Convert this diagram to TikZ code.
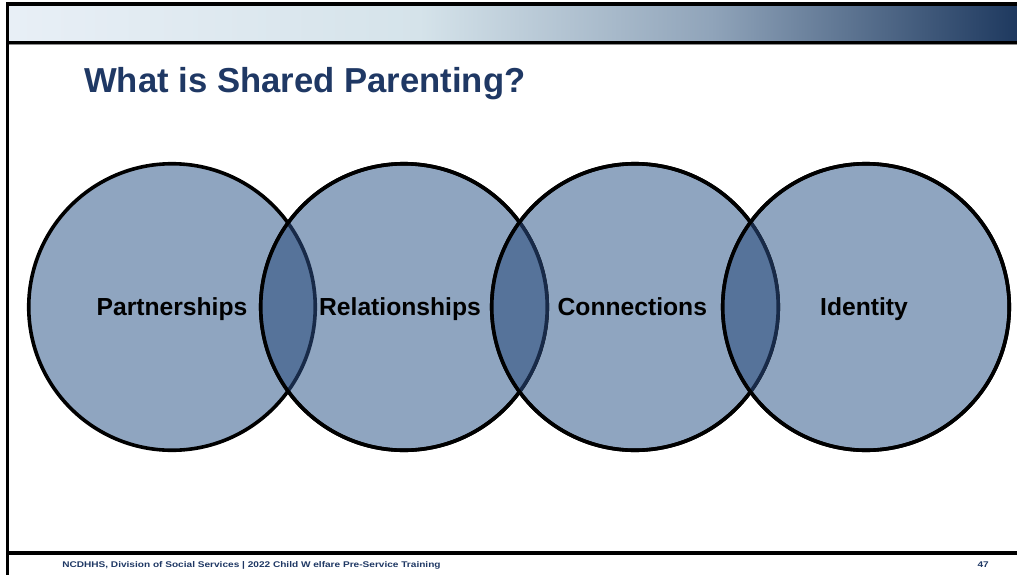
\documentclass[tikz,border=0pt]{standalone}
\usepackage{fontspec}
\setmainfont{Liberation Sans}
\usetikzlibrary{positioning}
\definecolor{navy}{RGB}{31,56,100}
\definecolor{ringfill}{RGB}{143,165,192}
\definecolor{lensfill}{RGB}{86,115,154}
\definecolor{lensline}{RGB}{24,42,72}
\definecolor{barA}{RGB}{232,239,246}
\definecolor{barB}{RGB}{213,227,234}
\definecolor{barC}{RGB}{143,163,185}
\definecolor{barD}{RGB}{30,57,95}
\newcommand{\ringR}{143.25}

\begin{document}
\begin{tikzpicture}[
  x=0.75pt,y=-0.75pt,
  ring/.style={circle,draw=black,line width=2.7pt,fill=ringfill,
    minimum size=214.9pt,inner sep=0pt},
  lens/.style={fill=lensfill,draw=lensline,line width=2.7pt},
  ringlabel/.style={anchor=base,inner sep=0pt,font=\fontsize{18.5}{22}\selectfont\bfseries},
  footer/.style={anchor=base west,inner sep=0pt,text=navy,
    font=\fontsize{6.2}{8}\selectfont\bfseries}
]
\useasboundingbox (0,0) rectangle (1017,575);
% Slide frame and title bar
\fill[black] (6,2) rectangle (1017,44);
\shade[left color=barA,right color=barB] (9,6) rectangle (420,40);
\shade[left color=barB,right color=barC] (419.5,6) rectangle (715,40);
\shade[left color=barC,right color=barD] (714.5,6) rectangle (1017,40);
\fill[black!45] (9,44) rectangle (1017,45);
\fill[black] (6,2) rectangle (9,575);
\fill[black] (6,551) rectangle (1017,554.5);
% Title
\node[anchor=base west,inner sep=0pt,text=navy,
  font=\fontsize{26}{30}\selectfont\bfseries] (title) at (84,92) {What is Shared Parenting?};
% Rings
\foreach \i/\cx in {1/172,2/404,3/635,4/866}{
  \node[ring] (c\i) at (\cx,307) {};
}
% Overlaps
\foreach \i/\j in {1/2,2/3,3/4}{
  \begin{scope}
    \clip (c\j.center) circle[radius=\ringR];
    \draw[lens] (c\i.center) circle[radius=\ringR];
  \end{scope}
  \draw[line width=2.7pt] (c\j.center) circle[radius=\ringR];
}
% Labels
\node[ringlabel] (partner) at ([yshift=-6pt]c1.center) {Partnerships};
\node[ringlabel] (relate) at ([xshift=-3pt,yshift=-6pt]c2.center) {Relationships};
\node[ringlabel] (connect) at ([xshift=-2pt,yshift=-6pt]c3.center) {Connections};
\node[ringlabel] (ident) at ([xshift=-1.5pt,yshift=-6pt]c4.center) {Identity};
% Footer
\node[footer] (foot) at (62,567.5) {\scalebox{1.22}[1]{NCDHHS, Division of Social Services | 2022 Child W elfare Pre-Service Training}};
\node[footer,anchor=base east] (pagenum) at (989,567.5) {\scalebox{1.22}[1]{47}};
\end{tikzpicture}
\end{document}
